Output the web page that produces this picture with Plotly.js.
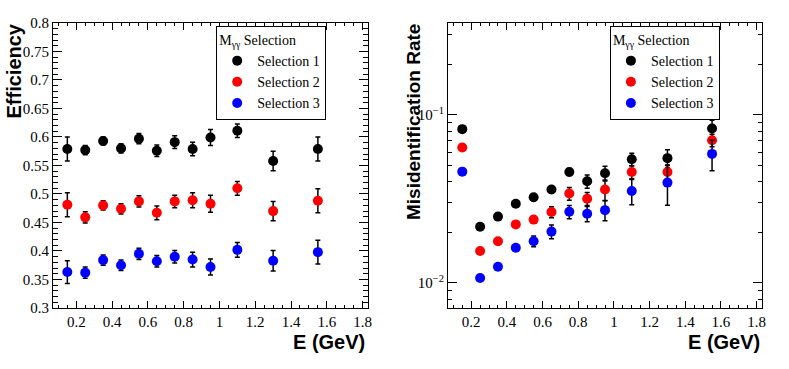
<!DOCTYPE html>
<html>
<head>
<meta charset="utf-8">
<script src="https://cdn.plot.ly/plotly-3.0.1.min.js"></script>
<style>
  body { margin: 0; background: white; }
  #plot-area { width: 789px; height: 369px; }
</style>
</head>
<body>
<div id="plot-area"></div>
<script>
// energy bins (GeV)
var energy = [0.15, 0.25, 0.35, 0.45, 0.55, 0.65, 0.75, 0.85, 0.95, 1.1, 1.3, 1.55];
var selNames = ["Selection 1", "Selection 2", "Selection 3"];

// efficiency per selection
var eff1 = [0.579, 0.577, 0.593, 0.580, 0.597, 0.576, 0.591, 0.579, 0.599, 0.611, 0.558, 0.579];
var eff1Err = [0.021, 0.008, 0.007, 0.008, 0.009, 0.010, 0.011, 0.012, 0.014, 0.012, 0.017, 0.021];
var eff2 = [0.481, 0.459, 0.480, 0.474, 0.487, 0.467, 0.487, 0.489, 0.483, 0.510, 0.470, 0.488];
var eff2Err = [0.021, 0.010, 0.008, 0.009, 0.010, 0.012, 0.011, 0.013, 0.015, 0.012, 0.017, 0.021];
var eff3 = [0.363, 0.362, 0.384, 0.375, 0.395, 0.382, 0.390, 0.385, 0.372, 0.402, 0.383, 0.398];
var eff3Err = [0.020, 0.010, 0.009, 0.009, 0.010, 0.010, 0.011, 0.013, 0.014, 0.013, 0.018, 0.021];

// misidentification rate per selection
var mis1 = [0.0821, 0.0216, 0.0248, 0.0296, 0.0323, 0.0359, 0.0457, 0.0402, 0.0449, 0.0544, 0.0552, 0.0829];
var mis1Err = [0.001, 0.0008, 0.0008, 0.0010, 0.0015, 0.0017, 0.0022, 0.0036, 0.0045, 0.0047, 0.0068, 0.0098];
var mis2 = [0.0639, 0.0155, 0.0177, 0.0223, 0.0238, 0.0264, 0.0340, 0.0317, 0.0359, 0.0457, 0.0457, 0.0706];
var mis2Err = [0.001, 0.0005, 0.0006, 0.0008, 0.0010, 0.0020, 0.0030, 0.0028, 0.0050, 0.0040, 0.0045, 0.0060];
var mis3 = [0.0459, 0.0107, 0.0125, 0.0162, 0.0177, 0.0202, 0.0265, 0.0258, 0.0271, 0.0352, 0.0395, 0.0585];
var mis3Err = [0.0008, 0.0004, 0.0005, 0.0007, 0.0013, 0.0019, 0.0024, 0.0027, 0.0037, 0.0060, 0.0105, 0.0120];

var colors = ["black", "red", "blue"];
var effVals = [eff1, eff2, eff3], effErrs = [eff1Err, eff2Err, eff3Err];
var misVals = [mis1, mis2, mis3], misErrs = [mis1Err, mis2Err, mis3Err];

var serif = "'Liberation Serif', 'Times New Roman', serif";
var sans = "'Liberation Sans', Arial, sans-serif";

function makeTrace(y, err, i, xa, ya, leg) {
    return {
        x: energy, y: y,
        xaxis: xa, yaxis: ya,
        mode: "markers",
        type: "scatter",
        name: selNames[i],
        legend: leg,
        marker: {color: colors[i], size: 10},
        error_y: {type: "data", array: err, visible: true, color: "black", thickness: 1.5, width: 2.5}
    };
}

var data = [];
for (var i = 0; i < 3; i++) data.push(makeTrace(effVals[i], effErrs[i], i, "x", "y", "legend"));
for (var i = 0; i < 3; i++) data.push(makeTrace(misVals[i], misErrs[i], i, "x2", "y2", "legend2"));

var logMinor = [0.008, 0.009, 0.02, 0.03, 0.04, 0.05, 0.06, 0.07, 0.08, 0.09, 0.2, 0.3];

function xAxis(dom, anchor) {
    return {
        domain: dom, anchor: anchor, range: [0.07, 1.83],
        tickvals: [0.2, 0.4, 0.6, 0.8, 1, 1.2, 1.4, 1.6, 1.8],
        ticktext: ["0.2", "0.4", "0.6", "0.8", "1", "1.2", "1.4", "1.6", "1.8"],
        ticks: "inside", ticklen: 7, tickwidth: 1, tickcolor: "black",
        minor: {dtick: 0.05, tick0: 0, ticks: "inside", ticklen: 3.5, tickcolor: "black"},
        showline: true, linecolor: "black", linewidth: 1, mirror: "allticks",
        showgrid: false, zeroline: false,
        tickfont: {family: serif, size: 15, color: "black"}
    };
}

var layout = {
    width: 789, height: 369,
    margin: {l: 0, r: 0, t: 0, b: 0},
    paper_bgcolor: "white", plot_bgcolor: "white",
    showlegend: true,
    xaxis: xAxis([0.0672, 0.4664], "y"),
    xaxis2: xAxis([0.5678, 0.9658], "y2"),
    yaxis: {
        domain: [0.1653, 0.9377], anchor: "x", range: [0.3, 0.8],
        tickvals: [0.3, 0.35, 0.4, 0.45, 0.5, 0.55, 0.6, 0.65, 0.7, 0.75, 0.8],
        ticktext: ["0.3", "0.35", "0.4", "0.45", "0.5", "0.55", "0.6", "0.65", "0.7", "0.75", "0.8"],
        ticks: "inside", ticklen: 9, tickwidth: 1, tickcolor: "black",
        minor: {dtick: 0.01, tick0: 0, ticks: "inside", ticklen: 4.5, tickcolor: "black"},
        showline: true, linecolor: "black", linewidth: 1, mirror: "allticks",
        showgrid: false, zeroline: false,
        tickfont: {family: serif, size: 15, color: "black"}
    },
    yaxis2: {
        domain: [0.1653, 0.9377], anchor: "x2", type: "log",
        range: [Math.log10(0.0071), Math.log10(0.351)],
        tickvals: [0.01, 0.1],
        ticktext: ["10<sup>\u22122</sup>", "10<sup>\u22121</sup>"],
        ticks: "inside", ticklen: 9, tickwidth: 1, tickcolor: "black",
        minor: {tickmode: "array", tickvals: logMinor, ticks: "inside", ticklen: 4.5, tickcolor: "black"},
        showline: true, linecolor: "black", linewidth: 1, mirror: "allticks",
        showgrid: false, zeroline: false,
        tickfont: {family: serif, size: 15, color: "black"}
    },
    legend: {
        x: 0.274, xanchor: "left", y: 0.93, yanchor: "top",
        bordercolor: "black", borderwidth: 1, bgcolor: "white",
        font: {family: serif, size: 14, color: "black"},
        title: {text: "M<sub>\u03b3\u03b3</sub> Selection", font: {family: serif, size: 14, color: "black"}},
        tracegroupgap: 0, itemwidth: 30, entrywidth: 100
    },
    legend2: {
        x: 0.773, xanchor: "left", y: 0.93, yanchor: "top",
        bordercolor: "black", borderwidth: 1, bgcolor: "white",
        font: {family: serif, size: 14, color: "black"},
        title: {text: "M<sub>\u03b3\u03b3</sub> Selection", font: {family: serif, size: 14, color: "black"}},
        tracegroupgap: 0, itemwidth: 30, entrywidth: 100
    },
    annotations: [
        {text: "<b>Efficiency</b>", textangle: -90, xref: "paper", yref: "paper",
         x: 13 / 789, y: 1 - 22 / 369, xanchor: "center", yanchor: "top", showarrow: false,
         font: {family: sans, size: 20, color: "black"}},
        {text: "<b>Misidentification Rate</b>", textangle: -90, xref: "paper", yref: "paper",
         x: 413 / 789, y: 1 - 22 / 369, xanchor: "center", yanchor: "top", showarrow: false,
         font: {family: sans, size: 19, color: "black"}},
        {text: "<b>E (GeV)</b>", xref: "paper", yref: "paper",
         x: 367 / 789, y: 1 - 342 / 369, xanchor: "right", yanchor: "middle", showarrow: false,
         font: {family: sans, size: 20, color: "black"}},
        {text: "<b>E (GeV)</b>", xref: "paper", yref: "paper",
         x: 762 / 789, y: 1 - 342 / 369, xanchor: "right", yanchor: "middle", showarrow: false,
         font: {family: sans, size: 20, color: "black"}}
    ]
};

Plotly.newPlot("plot-area", data, layout, {staticPlot: true});
</script>
</body>
</html>
